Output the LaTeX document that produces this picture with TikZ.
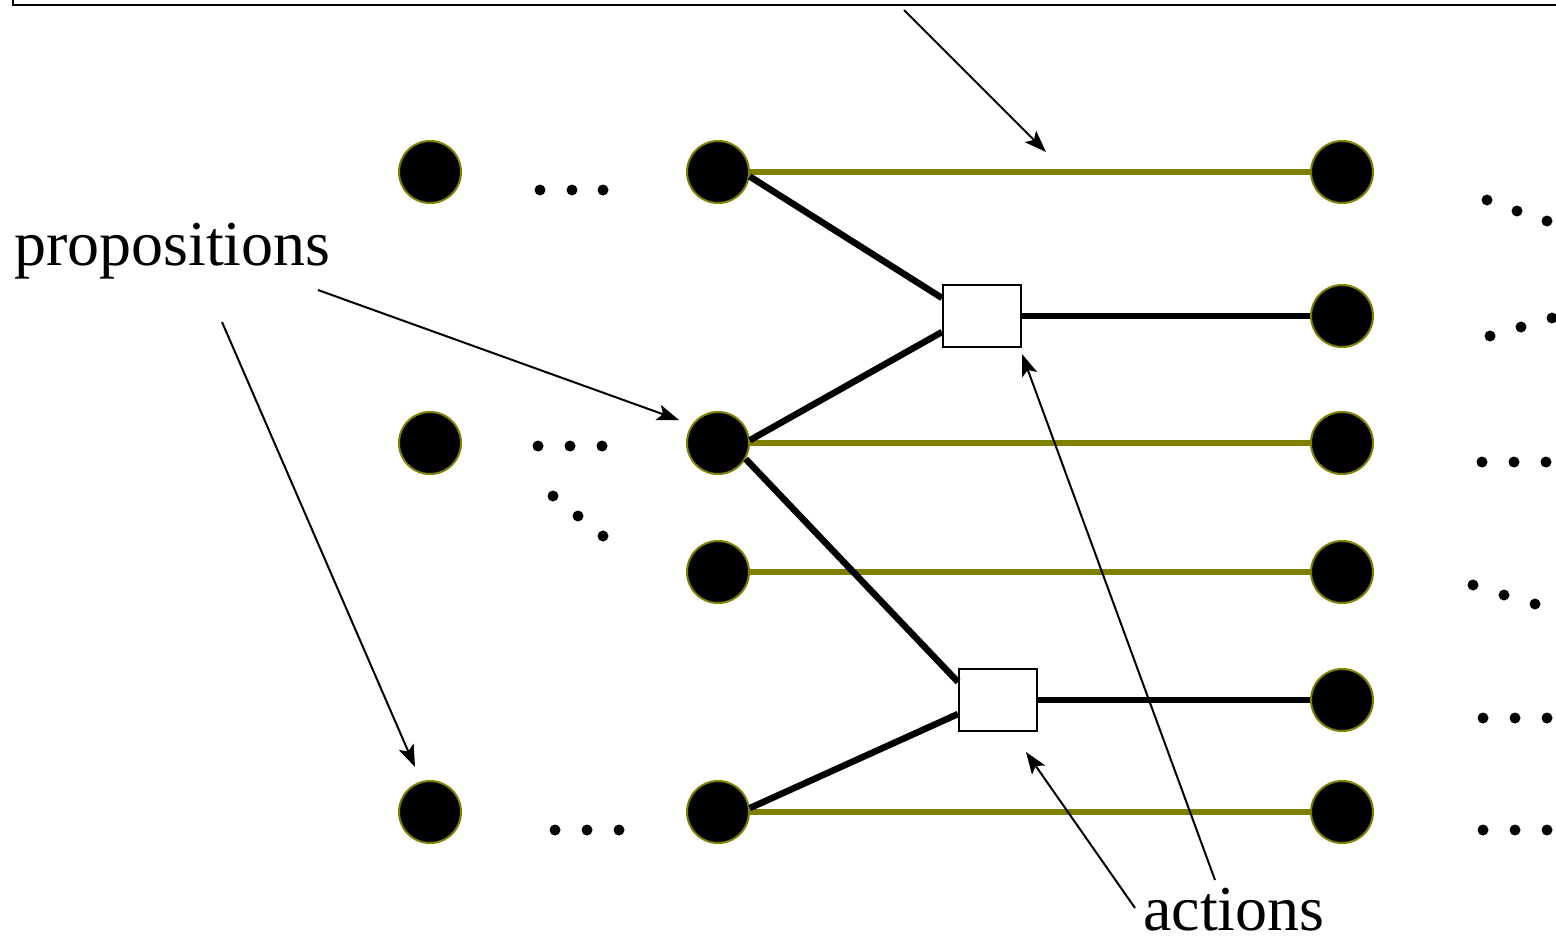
\documentclass[tikz,border=0pt]{standalone}
\usepackage{fontspec}
\setmainfont{Liberation Serif}
\usetikzlibrary{arrows.meta}
\definecolor{olivec}{RGB}{128,128,0}
\tikzset{
  prop/.style={circle,fill=black,draw=olivec,line width=2pt,minimum size=62pt,inner sep=0pt},
  actbox/.style={rectangle,draw=black,fill=white,line width=2pt,minimum width=78pt,minimum height=62pt,inner sep=0pt},
  noop/.style={draw=olivec,line width=6pt},
  link/.style={draw=black,line width=6.5pt},
  callout/.style={draw=black,line width=2pt,-{Stealth[length=22pt,width=16pt,inset=5pt]}},
  lbl/.style={font=\fontsize{64}{70}\selectfont,inner sep=0pt,anchor=base west,text depth=0pt},
  dotc/.style={fill=black}
}
\begin{document}
\begin{tikzpicture}[x=1pt,y=-1pt]
\useasboundingbox (0,0) rectangle (1556,940);
\clip (0,0) rectangle (1556,940);

% top box (mostly off the page)
\node[draw=black,line width=2pt,minimum width=1600pt,minimum height=80pt,anchor=south west,inner sep=0pt] (topbox) at (12,6) {};

% proposition nodes
\node[prop] (l1) at (430,172) {};
\node[prop] (l2) at (430,443) {};
\node[prop] (l3) at (430,812) {};

\node[prop] (m1) at (718,172) {};
\node[prop] (m2) at (718,443) {};
\node[prop] (m3) at (718,572) {};
\node[prop] (m4) at (718,812) {};

\node[prop] (r1) at (1342,172) {};
\node[prop] (r2) at (1342,316) {};
\node[prop] (r3) at (1342,443) {};
\node[prop] (r4) at (1342,572) {};
\node[prop] (r5) at (1342,700) {};
\node[prop] (r6) at (1342,812) {};

% action nodes
\node[actbox] (a1) at (982,316) {};
\node[actbox] (a2) at (998,700) {};

% no-op links
\draw[noop] (m1) -- (r1);
\draw[noop] (m2) -- (r3);
\draw[noop] (m3) -- (r4);
\draw[noop] (m4) -- (r6);

% action links
\draw[link] (m1.-8) -- ([yshift=18pt]a1.west);
\draw[link] (m2.5) -- ([yshift=-16pt]a1.west);
\draw[link] (a1) -- (r2);
\draw[link] (m2.-30) -- ([yshift=18pt]a2.west);
\draw[link] (m4.7) -- ([yshift=-14pt]a2.west);
\draw[link] (a2) -- (r5);

% dots
\foreach \x/\y in {540/190,572/190,603/190,
                   538/446,570/446,602/446,
                   553/496,578/516,603/536,
                   555/830,587/830,619/830,
                   1487/200,1517/211,1547/221,
                   1490/336,1521/327,1552/318,
                   1482/462,1514/462,1546/462,
                   1473/585,1504/595,1535/604,
                   1483/718,1515/718,1547/718,
                   1483/830,1515/830,1547/830}
  \fill[dotc] (\x,\y) circle (5.5pt);

% labels
\node[lbl] (props) at (14,265) {propositions};
\node[lbl] (acts) at (1143,930) {actions};

% callout arrows
\coordinate (t0) at (904,10);
\coordinate (t1) at (1046,152);
\draw[callout] (t0) -- (t1);

\coordinate (p1s) at (318,290);
\coordinate (p1e) at (679,420);
\draw[callout] (p1s) -- (p1e);
\coordinate (p2s) at (222,322);
\coordinate (p2e) at (415,767);
\draw[callout] (p2s) -- (p2e);

\coordinate (q1s) at (1215,880);
\coordinate (q1e) at (1022,354);
\draw[callout] (q1s) -- (q1e);
\coordinate (q2s) at (1135,908);
\coordinate (q2e) at (1026,752);
\draw[callout] (q2s) -- (q2e);
\end{tikzpicture}
\end{document}
